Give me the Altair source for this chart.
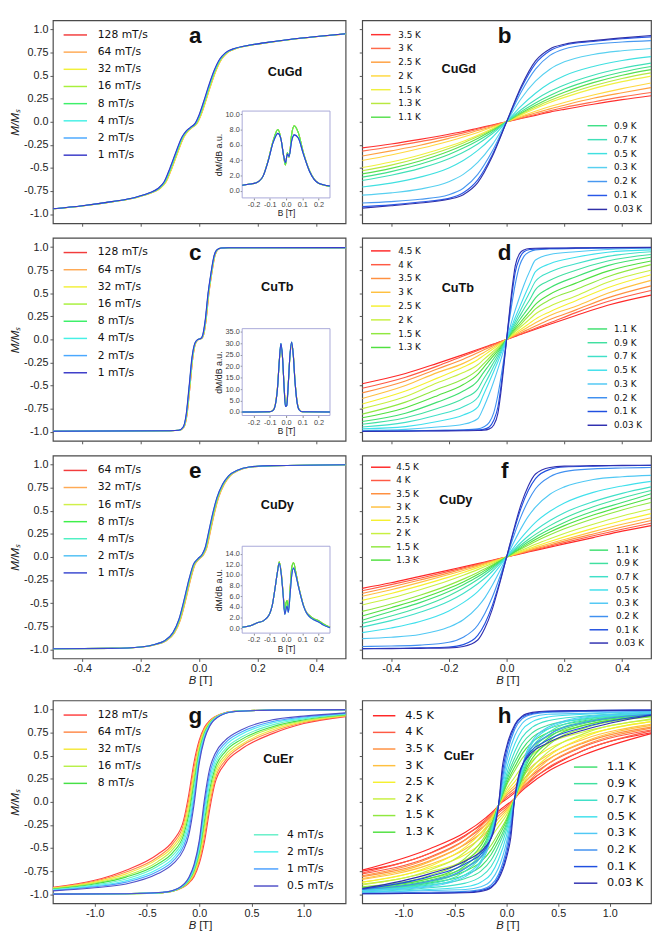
import altair as alt
import pandas as pd

# ===================== values =====================
RATES8 = ["128 mT/s", "64 mT/s", "32 mT/s", "16 mT/s", "8 mT/s", "4 mT/s", "2 mT/s", "1 mT/s"]
RATES7 = ["64 mT/s", "32 mT/s", "16 mT/s", "8 mT/s", "4 mT/s", "2 mT/s", "1 mT/s"]
RATES9 = ["128 mT/s", "64 mT/s", "32 mT/s", "16 mT/s", "8 mT/s", "4 mT/s", "2 mT/s", "1 mT/s", "0.5 mT/s"]
TEMPS14 = ["3.5 K", "3 K", "2.5 K", "2 K", "1.5 K", "1.3 K", "1.1 K", "0.9 K", "0.7 K",
           "0.5 K", "0.3 K", "0.2 K", "0.1 K", "0.03 K"]
TEMPS16 = ["4.5 K", "4 K", "3.5 K", "3 K", "2.5 K", "2 K", "1.5 K", "1.3 K", "1.1 K", "0.9 K",
           "0.7 K", "0.5 K", "0.3 K", "0.2 K", "0.1 K", "0.03 K"]

# (a) CuGd field sweep
CUGD_SWEEP_B = [-0.5, -0.4, -0.3, -0.22, -0.17, -0.14, -0.12, -0.1, -0.08, -0.06, -0.045, -0.03,
                -0.015, 0.0, 0.015, 0.03, 0.05, 0.07, 0.09, 0.12, 0.16, 0.22, 0.3, 0.4, 0.5]
CUGD_SWEEP_M = [-0.943, -0.91, -0.865, -0.82, -0.77, -0.72, -0.65, -0.5, -0.33, -0.17, -0.1, -0.06,
                -0.02, 0.08, 0.22, 0.37, 0.55, 0.68, 0.75, 0.795, 0.825, 0.855, 0.89, 0.925, 0.955]
CUGD_SWEEP_SHIFT = [0.006, 0.007, 0.006, 0.004, 0.003, 0.002, 0.001, 0.0]
CUGD_DMDB_B = [-0.27, -0.22, -0.18, -0.14, -0.11, -0.08, -0.05, -0.03, -0.015, -0.004, 0.008,
               0.018, 0.035, 0.05, 0.075, 0.105, 0.145, 0.2, 0.27]
CUGD_DMDB_FAST = [0.75, 0.9, 1.1, 2.0, 4.0, 6.5, 8.0, 6.6, 4.5, 3.4, 5.0, 4.4, 7.5, 8.5, 7.6, 5.1,
                  2.6, 1.0, 0.6]
CUGD_DMDB_SLOW = [0.75, 0.9, 1.1, 2.0, 3.9, 6.3, 7.5, 6.6, 4.6, 3.7, 4.8, 4.5, 6.6, 7.3, 6.9, 4.9,
                  2.5, 1.0, 0.65]
CUGD_DMDB_KIND = [0, 0, 0, 0, 0, 1, 1, 1]

# (c) CuTb field sweep
CUTB_SWEEP_B = [-0.5, -0.1, -0.07, -0.055, -0.045, -0.035, -0.025, -0.015, -0.005, 0.005, 0.012,
                0.02, 0.03, 0.04, 0.05, 0.06, 0.075, 0.1, 0.5]
CUTB_SWEEP_M = [-0.995, -0.99, -0.985, -0.95, -0.82, -0.52, -0.2, -0.04, 0.0, 0.01, 0.05, 0.2, 0.5,
                0.72, 0.9, 0.97, 0.99, 0.993, 0.995]
CUTB_SWEEP_SHIFT = [0.003, 0.003, 0.002, 0.002, 0.001, 0.001, 0.0005, 0.0]
CUTB_DMDB_B = [-0.27, -0.1, -0.08, -0.065, -0.052, -0.042, -0.032, -0.022, -0.012, -0.004, 0.004,
               0.013, 0.024, 0.034, 0.044, 0.054, 0.066, 0.08, 0.1, 0.27]
CUTB_DMDB_FAST = [0.0, 0.1, 0.8, 3.8, 11.5, 22.0, 28.5, 23.5, 11.0, 3.5, 4.0, 12.0, 24.5, 29.5,
                  25.5, 14.5, 5.5, 1.2, 0.1, 0.0]
CUTB_DMDB_SLOW = [0.0, 0.1, 0.7, 3.5, 11.0, 22.0, 29.8, 24.0, 10.5, 2.4, 2.8, 11.5, 25.0, 30.5,
                  25.0, 14.0, 5.0, 1.0, 0.1, 0.0]
CUTB_DMDB_KIND = [0, 0, 0, 0, 1, 1, 1, 1]

# (e) CuDy field sweep
CUDY_SWEEP_B = [-0.5, -0.3, -0.2, -0.15, -0.12, -0.09, -0.07, -0.05, -0.035, -0.02, -0.005, 0.01,
                0.02, 0.03, 0.045, 0.06, 0.08, 0.1, 0.13, 0.17, 0.25, 0.5]
CUDY_SWEEP_M = [-0.995, -0.99, -0.975, -0.945, -0.91, -0.82, -0.68, -0.44, -0.24, -0.08, -0.02,
                0.03, 0.1, 0.24, 0.46, 0.64, 0.79, 0.88, 0.94, 0.975, 0.99, 1.0]
CUDY_SWEEP_SHIFT = [0.005, 0.006, 0.004, 0.002, 0.001, 0.0005, 0.0]
CUDY_DMDB_B = [-0.27, -0.22, -0.18, -0.14, -0.12, -0.1, -0.085, -0.068, -0.055, -0.042, -0.03,
               -0.018, -0.008, 0.0, 0.006, 0.014, 0.025, 0.035, 0.046, 0.06, 0.076, 0.092, 0.107,
               0.125, 0.14, 0.17, 0.2, 0.23, 0.27]
CUDY_DMDB_FAST = [0.2, 0.5, 1.0, 1.4, 1.9, 2.8, 4.3, 7.5, 10.2, 12.5, 10.5, 6.5, 3.0, 4.8, 5.2, 3.4,
                  7.5, 11.5, 12.3, 10.5, 8.0, 6.0, 4.3, 3.0, 2.5, 1.8, 1.4, 0.8, 0.2]
CUDY_DMDB_SLOW = [0.2, 0.5, 1.0, 1.4, 1.9, 2.8, 4.3, 7.5, 10.2, 12.2, 10.2, 6.2, 2.6, 3.6, 4.2, 3.0,
                  6.5, 10.0, 11.3, 10.0, 7.8, 5.8, 4.2, 2.9, 2.3, 1.6, 1.2, 0.6, 0.1]
CUDY_DMDB_KIND = [0, 0, 0, 0, 1, 1, 1]

# (b) CuGd temperatures: M at positive B (curves are odd in B)
CUGD_T_GRID = [0.05, 0.1, 0.15, 0.2, 0.3, 0.4, 0.5]
CUGD_T_M = [
    [0.035, 0.07, 0.105, 0.135, 0.19, 0.24, 0.283],
    [0.04, 0.08, 0.12, 0.155, 0.215, 0.27, 0.318],
    [0.05, 0.095, 0.14, 0.18, 0.255, 0.315, 0.371],
    [0.06, 0.115, 0.165, 0.21, 0.29, 0.36, 0.42],
    [0.075, 0.145, 0.21, 0.265, 0.36, 0.435, 0.495],
    [0.085, 0.16, 0.23, 0.29, 0.39, 0.47, 0.53],
    [0.095, 0.18, 0.255, 0.32, 0.425, 0.505, 0.565],
    [0.11, 0.205, 0.285, 0.355, 0.46, 0.54, 0.60],
    [0.13, 0.24, 0.33, 0.40, 0.505, 0.58, 0.636],
    [0.17, 0.31, 0.42, 0.50, 0.60, 0.665, 0.707],
    [0.25, 0.44, 0.57, 0.65, 0.73, 0.77, 0.795],
    [0.32, 0.57, 0.72, 0.79, 0.84, 0.865, 0.88],
    [0.36, 0.63, 0.77, 0.83, 0.87, 0.90, 0.92],
    [0.38, 0.66, 0.79, 0.84, 0.88, 0.91, 0.936],
]

# (d) CuTb temperatures
CUTB_T_GRID = [0.01, 0.02, 0.03, 0.045, 0.06, 0.08, 0.1, 0.15, 0.24, 0.35, 0.5]
CUTB_T_M = [
    [0.011, 0.022, 0.033, 0.05, 0.066, 0.088, 0.11, 0.165, 0.26, 0.37, 0.48],
    [0.012, 0.024, 0.036, 0.054, 0.072, 0.096, 0.12, 0.18, 0.29, 0.41, 0.53],
    [0.0145, 0.029, 0.044, 0.065, 0.087, 0.116, 0.145, 0.215, 0.32, 0.45, 0.58],
    [0.018, 0.036, 0.054, 0.081, 0.108, 0.144, 0.18, 0.26, 0.36, 0.50, 0.64],
    [0.022, 0.044, 0.066, 0.099, 0.132, 0.176, 0.22, 0.30, 0.42, 0.56, 0.70],
    [0.028, 0.056, 0.084, 0.125, 0.166, 0.22, 0.275, 0.36, 0.47, 0.62, 0.75],
    [0.034, 0.068, 0.10, 0.15, 0.20, 0.265, 0.33, 0.43, 0.54, 0.68, 0.81],
    [0.04, 0.08, 0.12, 0.175, 0.23, 0.305, 0.38, 0.49, 0.61, 0.74, 0.85],
    [0.048, 0.095, 0.142, 0.21, 0.275, 0.36, 0.45, 0.56, 0.68, 0.80, 0.89],
    [0.058, 0.115, 0.17, 0.25, 0.33, 0.43, 0.54, 0.64, 0.75, 0.85, 0.92],
    [0.068, 0.135, 0.20, 0.295, 0.39, 0.51, 0.63, 0.73, 0.82, 0.90, 0.95],
    [0.08, 0.16, 0.24, 0.35, 0.46, 0.60, 0.735, 0.82, 0.89, 0.945, 0.97],
    [0.11, 0.22, 0.32, 0.46, 0.59, 0.74, 0.86, 0.92, 0.95, 0.975, 0.99],
    [0.22, 0.42, 0.60, 0.80, 0.90, 0.95, 0.97, 0.98, 0.985, 0.99, 0.995],
    [0.27, 0.52, 0.73, 0.88, 0.95, 0.975, 0.98, 0.985, 0.99, 0.993, 0.995],
    [0.30, 0.58, 0.80, 0.93, 0.97, 0.985, 0.988, 0.99, 0.992, 0.995, 0.997],
]

# (f) CuDy temperatures
CUDY_T_GRID = [0.025, 0.05, 0.075, 0.1, 0.15, 0.2, 0.3, 0.4, 0.5]
CUDY_T_M = [
    [0.018, 0.036, 0.054, 0.072, 0.107, 0.142, 0.21, 0.28, 0.34],
    [0.02, 0.04, 0.06, 0.08, 0.118, 0.156, 0.23, 0.30, 0.365],
    [0.022, 0.044, 0.066, 0.088, 0.13, 0.172, 0.25, 0.325, 0.395],
    [0.025, 0.05, 0.075, 0.099, 0.146, 0.19, 0.275, 0.355, 0.425],
    [0.029, 0.058, 0.087, 0.115, 0.168, 0.218, 0.31, 0.395, 0.47],
    [0.035, 0.07, 0.104, 0.137, 0.198, 0.255, 0.355, 0.445, 0.52],
    [0.044, 0.087, 0.128, 0.168, 0.24, 0.305, 0.415, 0.51, 0.59],
    [0.05, 0.098, 0.145, 0.19, 0.27, 0.34, 0.455, 0.55, 0.64],
    [0.057, 0.112, 0.165, 0.215, 0.30, 0.375, 0.495, 0.59, 0.685],
    [0.066, 0.13, 0.19, 0.245, 0.34, 0.42, 0.545, 0.64, 0.72],
    [0.08, 0.157, 0.228, 0.29, 0.395, 0.48, 0.60, 0.69, 0.76],
    [0.105, 0.205, 0.295, 0.375, 0.495, 0.585, 0.70, 0.77, 0.82],
    [0.16, 0.31, 0.44, 0.54, 0.68, 0.76, 0.84, 0.87, 0.885],
    [0.23, 0.44, 0.61, 0.74, 0.87, 0.925, 0.955, 0.965, 0.97],
    [0.28, 0.53, 0.72, 0.85, 0.95, 0.975, 0.985, 0.99, 0.993],
    [0.30, 0.57, 0.77, 0.90, 0.97, 0.985, 0.99, 0.993, 0.995],
]

# (g) CuEr field sweep: one branch per rate; the other branch is its point reflection
CUER_R_GRID = [-1.4, -1.0, -0.7, -0.4, -0.25, -0.15, -0.1, -0.05, 0.0, 0.05, 0.1, 0.2, 0.35, 0.7, 1.4]
CUER_R_M = [
    [-0.925, -0.85, -0.74, -0.57, -0.42, -0.20, 0.08, 0.43, 0.67, 0.81, 0.88, 0.95, 0.985, 0.995, 1.0],
    [-0.93, -0.86, -0.76, -0.60, -0.45, -0.24, 0.025, 0.37, 0.64, 0.795, 0.873, 0.948, 0.984, 0.995, 1.0],
    [-0.935, -0.87, -0.78, -0.62, -0.48, -0.28, -0.03, 0.315, 0.61, 0.78, 0.865, 0.946, 0.984, 0.995, 1.0],
    [-0.94, -0.88, -0.80, -0.65, -0.51, -0.32, -0.085, 0.26, 0.575, 0.76, 0.858, 0.944, 0.983, 0.995, 1.0],
    [-0.945, -0.89, -0.815, -0.675, -0.545, -0.36, -0.14, 0.20, 0.545, 0.745, 0.85, 0.943, 0.983, 0.995, 1.0],
    [-0.95, -0.90, -0.835, -0.70, -0.575, -0.40, -0.195, 0.145, 0.515, 0.73, 0.843, 0.941, 0.982, 0.995, 1.0],
    [-0.955, -0.91, -0.855, -0.73, -0.61, -0.44, -0.25, 0.085, 0.485, 0.713, 0.835, 0.939, 0.981, 0.995, 1.0],
    [-0.96, -0.92, -0.87, -0.755, -0.64, -0.48, -0.305, 0.03, 0.45, 0.696, 0.828, 0.937, 0.981, 0.995, 1.0],
    [-0.965, -0.93, -0.89, -0.78, -0.67, -0.52, -0.36, -0.03, 0.42, 0.68, 0.82, 0.935, 0.98, 0.995, 1.0],
]

# (h) CuEr temperatures: one branch per temperature; the other is its point reflection
CUER_T_GRID = [-1.4, -0.75, -0.4, -0.2, -0.12, -0.08, -0.04, 0.0, 0.08, 0.15, 0.25, 0.4, 0.75, 1.4]
CUER_T_M = [
    [-0.74, -0.51, -0.33, -0.17, -0.09, -0.04, 0.0, 0.03, 0.10, 0.16, 0.25, 0.36, 0.56, 0.75],
    [-0.77, -0.56, -0.37, -0.19, -0.10, -0.04, 0.01, 0.05, 0.12, 0.19, 0.29, 0.41, 0.60, 0.78],
    [-0.80, -0.61, -0.41, -0.21, -0.11, -0.04, 0.02, 0.07, 0.15, 0.23, 0.34, 0.46, 0.64, 0.81],
    [-0.83, -0.65, -0.45, -0.24, -0.12, -0.04, 0.03, 0.09, 0.18, 0.27, 0.39, 0.51, 0.68, 0.84],
    [-0.87, -0.70, -0.49, -0.27, -0.13, -0.04, 0.04, 0.11, 0.22, 0.32, 0.45, 0.57, 0.72, 0.87],
    [-0.89, -0.74, -0.54, -0.30, -0.14, -0.04, 0.05, 0.14, 0.27, 0.38, 0.51, 0.63, 0.76, 0.90],
    [-0.92, -0.80, -0.61, -0.35, -0.16, -0.04, 0.07, 0.18, 0.34, 0.47, 0.60, 0.71, 0.83, 0.93],
    [-0.93, -0.83, -0.65, -0.38, -0.17, -0.04, 0.08, 0.20, 0.38, 0.52, 0.65, 0.75, 0.86, 0.945],
    [-0.94, -0.85, -0.69, -0.42, -0.18, -0.04, 0.09, 0.23, 0.43, 0.57, 0.70, 0.79, 0.88, 0.955],
    [-0.95, -0.87, -0.72, -0.45, -0.19, -0.04, 0.11, 0.26, 0.48, 0.63, 0.75, 0.83, 0.90, 0.965],
    [-0.955, -0.89, -0.75, -0.49, -0.20, -0.04, 0.13, 0.30, 0.55, 0.70, 0.81, 0.88, 0.93, 0.975],
    [-0.96, -0.91, -0.79, -0.53, -0.22, -0.04, 0.16, 0.36, 0.63, 0.78, 0.87, 0.92, 0.95, 0.98],
    [-0.965, -0.92, -0.81, -0.56, -0.24, -0.04, 0.20, 0.43, 0.72, 0.85, 0.92, 0.95, 0.96, 0.985],
    [-0.95, -0.86, -0.72, -0.52, -0.26, -0.05, 0.25, 0.50, 0.79, 0.90, 0.95, 0.97, 0.98, 0.99],
    [-0.945, -0.81, -0.67, -0.50, -0.28, -0.05, 0.32, 0.56, 0.82, 0.92, 0.96, 0.98, 0.99, 0.995],
    [-0.94, -0.78, -0.64, -0.48, -0.30, -0.05, 0.39, 0.60, 0.84, 0.93, 0.97, 0.985, 0.99, 0.995],
]

# axis ticks
YTICKS = [-1.0, -0.75, -0.5, -0.25, 0.0, 0.25, 0.5, 0.75, 1.0]
XTICKS_S = [-0.4, -0.2, 0.0, 0.2, 0.4]
XTICKS_L = [-1.0, -0.5, 0.0, 0.5, 1.0]

# ===================== styles =====================
COL_A8 = ["#f23c3c", "#ffaa55", "#f2f03a", "#a8f03c", "#3ef06a", "#46f0e6", "#4aa8ff", "#3a3ac8"]
COL_E7 = ["#f23c3c", "#ffaa55", "#d0f04a", "#3ef04a", "#50f0c4", "#50c0f4", "#3a48d0"]
COL_G9 = ["#ff4040", "#ff8a4a", "#f5e83a", "#b8f04a", "#46e046", "#66f0c8", "#4ef0f0", "#4aa0ff", "#5050c8"]
COL_T14 = ["#ff3030", "#ff6a4a", "#ffa040", "#ffd840", "#f0f040", "#b8e840", "#58e050", "#40e088",
           "#40e0b8", "#40e0e0", "#58d0f0", "#4898f0", "#2858e8", "#3030a8"]
COL_T16 = ["#ff2828", "#ff5a44", "#ff9040", "#ffc040", "#f5f030", "#c8f040", "#90e840", "#50e040",
           "#40e070", "#40e0a0", "#40e0c8", "#40e0ec", "#50c8f4", "#4090f0", "#2050e0", "#3030b0"]

AXF = "Liberation Sans"
LEGF = "DejaVu Sans"
TXTF = "Liberation Sans"
H = 208
YDOM = [-1.1, 1.1]
IXDOM = [-0.27, 0.27]
LBL = ("abs(datum.value) < 1e-9 ? '0.0' : (datum.value % 1 == 0 ? "
       "toString(datum.value) + '.0' : toString(datum.value))")


def to_x(px, W, dom):
    return dom[0] + px / W * (dom[1] - dom[0])


def to_y(py):
    return YDOM[1] - py / H * (YDOM[1] - YDOM[0])


def sweep_df(labels, bs, ms, shifts):
    rows = []
    for lab, sh in zip(labels, shifts):
        for b, m in zip(bs, ms):
            rows.append({"B": b + sh, "M": m, "label": lab, "key": lab})
    return pd.DataFrame(rows)


def sym_df(labels, grid, table):
    rows = []
    for lab, vals in zip(labels, table):
        bs = [-g for g in reversed(grid)] + [0.0] + list(grid)
        ms = [-v for v in reversed(vals)] + [0.0] + list(vals)
        for b, m in zip(bs, ms):
            rows.append({"B": b, "M": m, "label": lab, "key": lab})
    return pd.DataFrame(rows)


def loop_df(labels, grid, table):
    rows = []
    for lab, vals in zip(labels, table):
        for b, m in zip(grid, vals):
            rows.append({"B": b, "M": m, "label": lab, "key": lab + "|up"})
        for b, m in zip([-g for g in reversed(grid)], [-v for v in reversed(vals)]):
            rows.append({"B": b, "M": m, "label": lab, "key": lab + "|dn"})
    return pd.DataFrame(rows)


def inset_df(labels, bs, variants, kinds):
    rows = []
    for lab, k in zip(labels, kinds):
        for b, v in zip(bs, variants[k]):
            rows.append({"B": b, "D": v, "label": lab, "key": lab})
    return pd.DataFrame(rows)


def inset_layer(df, labels, colors, ydom, yticks):
    cs = alt.Scale(domain=labels, range=colors)
    ixs = alt.Scale(domain=IXDOM, range=[194, 284], nice=False, zero=False)
    iys = alt.Scale(domain=ydom, range=[182, 93], nice=False, zero=False)
    ixax = alt.Axis(orient="bottom", offset=-(H - 182), values=[-0.2, -0.1, 0.0, 0.1, 0.2],
                    labelExpr=LBL, labelFontSize=7.5, tickSize=2, labelPadding=1,
                    title="B [T]", titleFontSize=8.5, titlePadding=1, titleFontWeight="normal",
                    labelColor="#444", tickColor="#888")
    iyax = alt.Axis(orient="left", offset=-194, values=yticks, labelExpr=LBL, labelFontSize=7.5,
                    tickSize=2, labelPadding=1, title="dM/dB a.u.", titleFontSize=9,
                    titlePadding=2, titleFontWeight="normal", labelColor="#444", tickColor="#888")
    frame = alt.Chart(pd.DataFrame({"x0": [IXDOM[0]], "x1": [IXDOM[1]],
                                    "y0": [ydom[0]], "y1": [ydom[1]]})).mark_rect(
        fill="white", stroke="#a8a8d8", strokeWidth=1).encode(
        x=alt.X("x0:Q", scale=ixs, axis=ixax), x2="x1:Q",
        y=alt.Y("y0:Q", scale=iys, axis=iyax), y2="y1:Q")
    lines = alt.Chart(df).mark_line(interpolate="monotone", strokeWidth=1.1).encode(
        x=alt.X("B:Q", scale=ixs, axis=ixax), y=alt.Y("D:Q", scale=iys, axis=iyax),
        color=alt.Color("label:N", scale=cs, legend=None), detail="key:N")
    return alt.layer(frame, lines)


def panel(df, labels, colors, groups, lfs, letter, name, name_xy, xdom, xticks, W,
          ylabels, xlabels, xtitle_dy=None, inset=None):
    cs = alt.Scale(domain=labels, range=colors)
    xs = alt.Scale(domain=xdom, nice=False, zero=False)
    ys = alt.Scale(domain=YDOM, nice=False, zero=False)
    xax = alt.Axis(values=xticks, labels=xlabels, labelExpr=LBL, title=None, tickSize=3,
                   labelPadding=1, labelFontSize=11)
    if ylabels:
        yax = alt.Axis(values=YTICKS, labelExpr=LBL, title="M/Mₛ", tickSize=3, labelPadding=2,
                       labelFontSize=11, titleFontSize=12, titleFontStyle="italic",
                       titleFontWeight="normal", titlePadding=2)
    else:
        yax = alt.Axis(values=YTICKS, labels=False, title=None, tickSize=3)

    def X(f):
        return alt.X(f, scale=xs, axis=xax)

    def Y(f):
        return alt.Y(f, scale=ys, axis=yax)

    lines = alt.Chart(df).mark_line(interpolate="monotone", strokeWidth=1.15, clip=True).encode(
        x=X("B:Q"), y=Y("M:Q"),
        color=alt.Color("label:N", scale=cs, legend=None), detail="key:N")
    rows = []
    for (s, e, x1, x2, tx, y0, step) in groups:
        for j, lab in enumerate(labels[s:e]):
            py = y0 + j * step
            rows.append({"label": lab, "x1": to_x(x1, W, xdom), "x2": to_x(x2, W, xdom),
                         "tx": to_x(tx, W, xdom), "y": to_y(py)})
    ldf = pd.DataFrame(rows)
    rules = alt.Chart(ldf).mark_rule(strokeWidth=1.5).encode(
        x=X("x1:Q"), x2="x2:Q", y=Y("y:Q"),
        color=alt.Color("label:N", scale=cs, legend=None))
    texts = alt.Chart(ldf).mark_text(align="left", baseline="middle", font=LEGF, fontSize=lfs,
                                     color="#111").encode(x=X("tx:Q"), y=Y("y:Q"), text="label:N")
    ann = alt.Chart(pd.DataFrame({"t": [letter]})).mark_text(
        font=TXTF, fontSize=23, fontWeight="bold", align="center", baseline="alphabetic",
        color="#111").encode(x=alt.value(146), y=alt.value(23), text="t:N")
    nm = alt.Chart(pd.DataFrame({"t": [name]})).mark_text(
        font=TXTF, fontSize=13, fontWeight="bold", align="center", baseline="alphabetic",
        color="#111").encode(x=alt.value(name_xy[0]), y=alt.value(name_xy[1]), text="t:N")
    layers = [lines, rules, texts, ann, nm]
    if xtitle_dy is not None:
        tb = alt.Chart(pd.DataFrame({"t": ["B"]})).mark_text(
            font=AXF, fontSize=11.5, fontStyle="italic", align="right", baseline="middle",
            color="#222").encode(x=alt.value(W / 2 - 3), y=alt.value(H + xtitle_dy), text="t:N")
        tt = alt.Chart(pd.DataFrame({"t": ["[T]"]})).mark_text(
            font=AXF, fontSize=11.5, align="left", baseline="middle",
            color="#222").encode(x=alt.value(W / 2), y=alt.value(H + xtitle_dy), text="t:N")
        layers += [tb, tt]
    main = alt.layer(*layers)
    if inset is not None:
        ch = alt.layer(main, inset).resolve_scale(x="independent", y="independent")
    else:
        ch = main
    return ch.properties(width=W, height=H)


WL, WR = 300, 296
XS = [-0.5, 0.5]
XL = [-1.4, 1.4]

pa = panel(sweep_df(RATES8, CUGD_SWEEP_B, CUGD_SWEEP_M, CUGD_SWEEP_SHIFT), RATES8, COL_A8,
           [(0, 8, 11, 35, 46, 15, 17.6)], 11, "a", "CuGd", (238, 57), XS, XTICKS_S, WL,
           True, False,
           inset=inset_layer(inset_df(RATES8, CUGD_DMDB_B, [CUGD_DMDB_FAST, CUGD_DMDB_SLOW],
                                      CUGD_DMDB_KIND), RATES8, COL_A8, [-0.9, 10.4],
                             [0, 2, 4, 6, 8, 10]))
pb = panel(sym_df(TEMPS14, CUGD_T_GRID, CUGD_T_M), TEMPS14, COL_T14,
           [(0, 7, 9, 29, 37, 14.7, 14.1), (7, 14, 231, 251, 258, 108, 14.3)], 9,
           "b", "CuGd", (99, 54), XS, XTICKS_S, WR, False, False)
pc = panel(sweep_df(RATES8, CUTB_SWEEP_B, CUTB_SWEEP_M, CUTB_SWEEP_SHIFT), RATES8, COL_A8,
           [(0, 8, 11, 35, 46, 15, 17.6)], 11, "c", "CuTb", (230, 54), XS, XTICKS_S, WL,
           True, False,
           inset=inset_layer(inset_df(RATES8, CUTB_DMDB_B, [CUTB_DMDB_FAST, CUTB_DMDB_SLOW],
                                      CUTB_DMDB_KIND), RATES8, COL_A8, [-1.5, 36.3],
                             [0, 5, 10, 15, 20, 25, 30, 35]))
pd_ = panel(sym_df(TEMPS16, CUTB_T_GRID, CUTB_T_M), TEMPS16, COL_T16,
            [(0, 8, 9, 29, 37, 13.3, 14.14), (8, 16, 231, 251, 258, 93.3, 14.1)], 9,
            "d", "CuTb", (98, 55), XS, XTICKS_S, WR, False, False)
pe = panel(sweep_df(RATES7, CUDY_SWEEP_B, CUDY_SWEEP_M, CUDY_SWEEP_SHIFT), RATES7, COL_E7,
           [(0, 7, 11, 35, 46, 15.3, 17.5)], 11, "e", "CuDy", (230, 55), XS, XTICKS_S, WL,
           True, True, xtitle_dy=23,
           inset=inset_layer(inset_df(RATES7, CUDY_DMDB_B, [CUDY_DMDB_FAST, CUDY_DMDB_SLOW],
                                      CUDY_DMDB_KIND), RATES7, COL_E7, [-0.9, 15.4],
                             [0, 2, 4, 6, 8, 10, 12, 14]))
pf = panel(sym_df(TEMPS16, CUDY_T_GRID, CUDY_T_M), TEMPS16, COL_T16,
           [(0, 8, 9, 29, 35, 12, 13.6), (8, 16, 233, 252, 260, 97, 13.6)], 9,
           "f", "CuDy", (96, 50), XS, XTICKS_S, WR, False, True, xtitle_dy=23)
pg = panel(loop_df(RATES9, CUER_R_GRID, CUER_R_M), RATES9, COL_G9,
           [(0, 5, 11, 35, 46, 15, 17.5), (5, 9, 206, 231, 240, 137.7, 17.5)], 11,
           "g", "CuEr", (231, 64), XL, XTICKS_L, WL, True, True, xtitle_dy=23)
ph = panel(loop_df(TEMPS16, CUER_T_GRID, CUER_T_M), TEMPS16, COL_T16,
           [(0, 8, 11, 34, 44, 15.7, 17.05), (8, 16, 217, 241, 251, 68.3, 17)], 11.5,
           "h", "CuEr", (99, 61), XL, XTICKS_L, WR, False, True, xtitle_dy=23)

row1 = alt.hconcat(pa, pb, spacing=11).resolve_scale(color="independent")
row2 = alt.hconcat(pc, pd_, spacing=11).resolve_scale(color="independent")
row3 = alt.hconcat(pe, pf, spacing=11).resolve_scale(color="independent")
row4 = alt.hconcat(pg, ph, spacing=11).resolve_scale(color="independent")
top = alt.vconcat(row1, row2, row3, spacing=9).resolve_scale(color="independent")

chart = alt.vconcat(top, row4, spacing=12).resolve_scale(color="independent").properties(
    padding=0, background="white"
).configure_view(
    stroke="#4a4a4a", strokeWidth=1.2
).configure_axis(
    grid=False, domain=False, tickColor="#555555", labelColor="#222222",
    labelFont=AXF, titleFont=AXF, titleColor="#222222"
)

chart.save("out.html", embed_options={"renderer": "svg", "actions": False})
